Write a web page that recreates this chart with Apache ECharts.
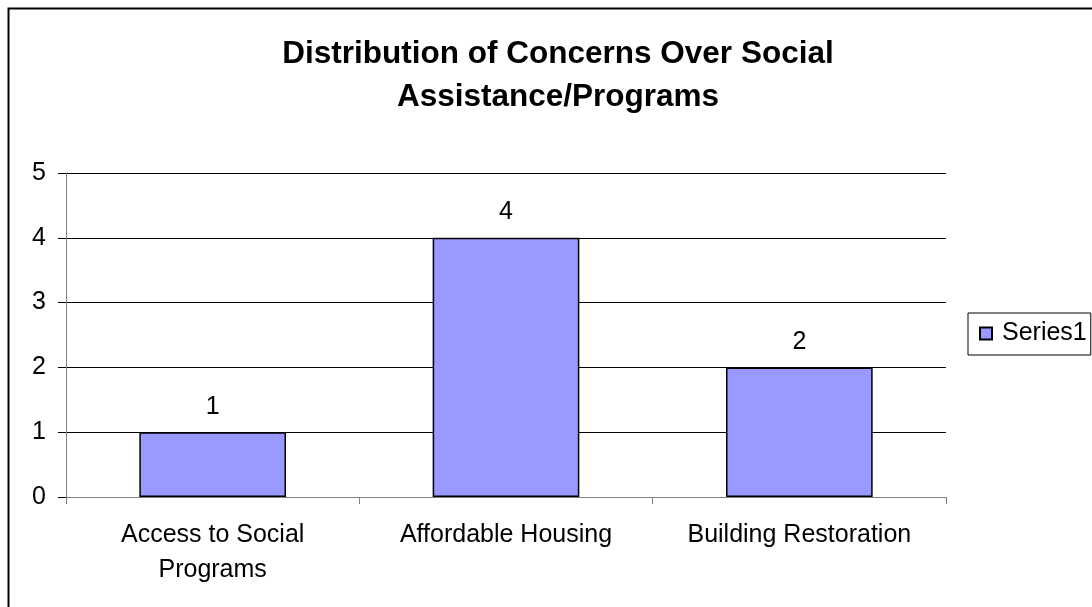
<!DOCTYPE html>
<html><head><meta charset="utf-8">
<script src="https://cdn.jsdelivr.net/npm/echarts@6/dist/echarts.min.js"></script>
<style>html,body{margin:0;padding:0;background:#fff}#c{width:1092px;height:607px}</style>
</head><body><div id="c"></div>
<script>
const categories = ['Access to Social\nPrograms', 'Affordable Housing', 'Building Restoration'];
const series1 = [1, 4, 2];
const seriesName = 'Series1';
const titleText = 'Distribution of Concerns Over Social\nAssistance/Programs';

const chart = echarts.init(document.getElementById('c'));
const F = '"Liberation Sans", Arial, sans-serif';
chart.setOption({
  animation: false,
  backgroundColor: '#fff',
  graphic: [{type:'rect', shape:{x:8.5, y:8.5, width:1100, height:620}, style:{fill:'none', stroke:'#000', lineWidth:2}, silent:true}],
  title: {text: titleText, left: 558, top: 33, textAlign: 'center', padding: 0,
    textStyle:{fontFamily:F, fontSize:31.5, fontWeight:'bold', color:'#000', lineHeight:43}},
  legend: {data:[seriesName], left: 968, top: 313, orient:'vertical',
    itemWidth: 12, itemHeight: 12, itemGap: 0, padding:[8,4,9,11],
    borderColor:'#000', borderWidth:1, icon:'rect',
    textStyle:{fontFamily:F, fontSize:25, color:'#000', lineHeight:25, padding:[0,0,0,5]}},
  grid: {left: 66, right: 146, top: 173, bottom: 110},
  xAxis: {type:'category', data: categories,
    axisLine:{lineStyle:{color:'#808080', width:1}},
    axisTick:{show:true, length:7, lineStyle:{color:'#808080'}},
    axisLabel:{fontFamily:F, fontSize:25, color:'#000', margin:21, lineHeight:35}},
  yAxis: {type:'value', min:0, max:5, interval:1,
    axisLine:{show:true, lineStyle:{color:'#808080'}},
    axisTick:{show:true, length:8, lineStyle:{color:'#000'}},
    splitLine:{lineStyle:{color:'#000', width:1}},
    axisLabel:{fontFamily:F, fontSize:25, color:'#000', margin:20}},
  series: [{name: seriesName, type:'bar', data: series1, barWidth:'50%',
    itemStyle:{color:'#9999ff', borderColor:'#000', borderWidth:1.5},
    label:{show:true, position:'top', distance:13, fontFamily:F, fontSize:25, color:'#000'}}]
});
</script></body></html>
